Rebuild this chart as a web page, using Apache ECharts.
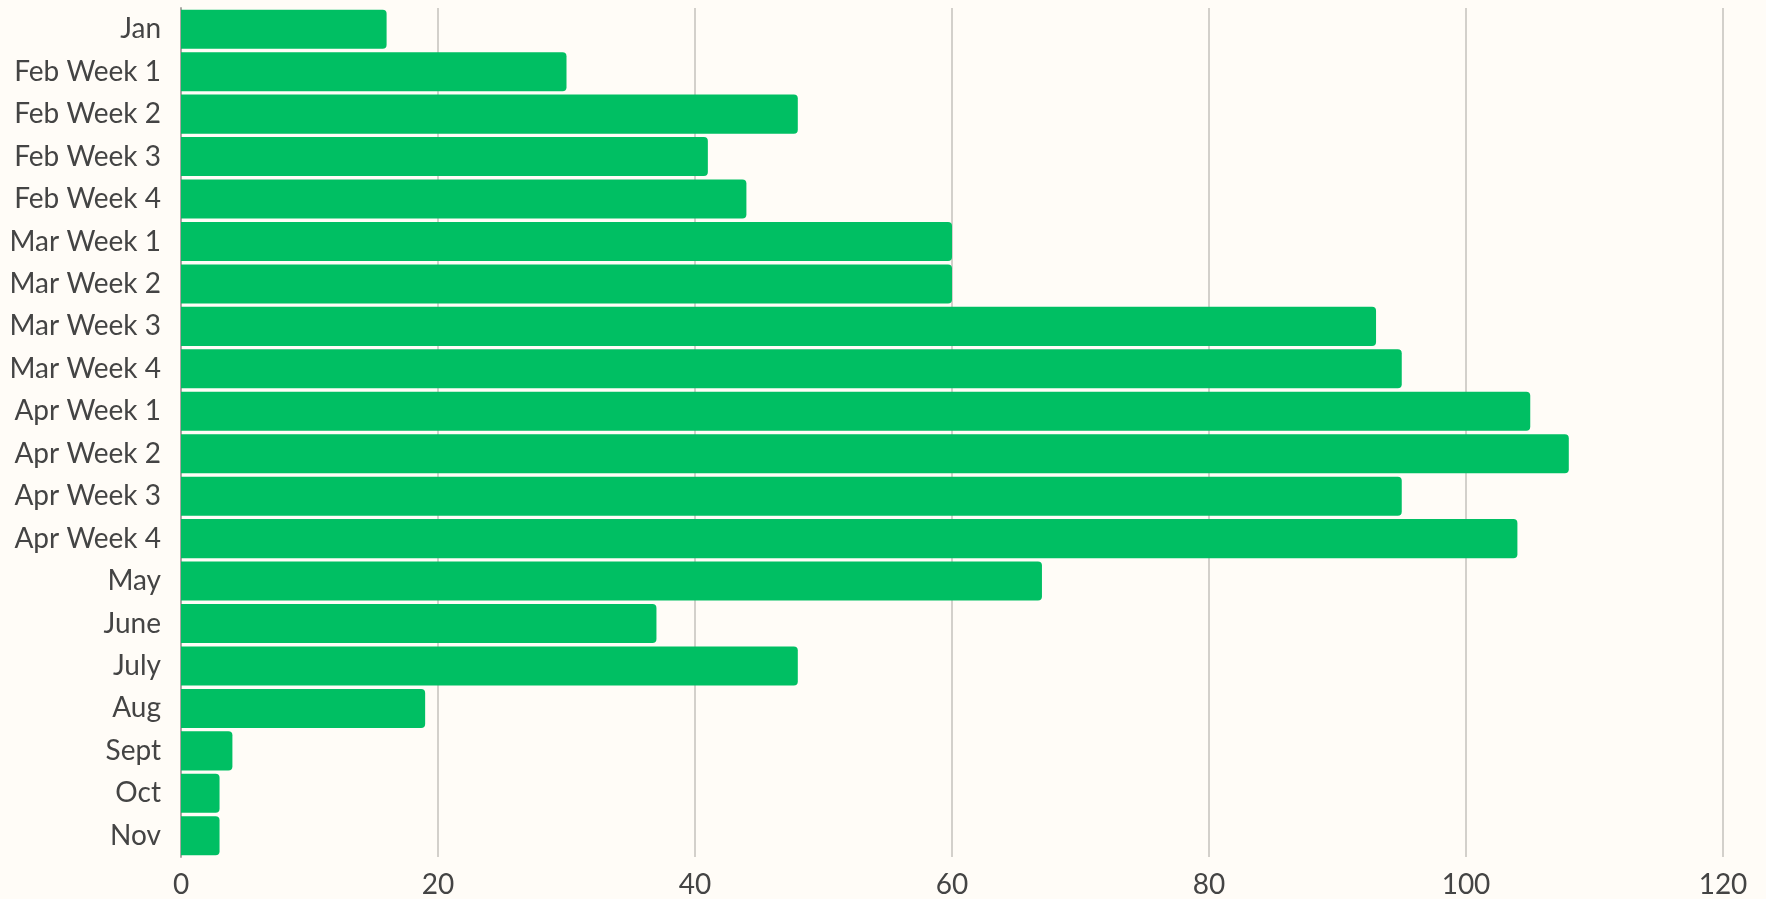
<!DOCTYPE html>
<html>
<head>
<meta charset="utf-8">
<script src="https://cdn.jsdelivr.net/npm/echarts@6/dist/echarts.min.js"></script>
<style>
html,body{margin:0;padding:0;background:#FFFCF7;}
#chart{width:1766px;height:899px;}
</style>
</head>
<body>
<div id="chart"></div>
<script>
const categories = ["Jan","Feb Week 1","Feb Week 2","Feb Week 3","Feb Week 4","Mar Week 1","Mar Week 2","Mar Week 3","Mar Week 4","Apr Week 1","Apr Week 2","Apr Week 3","Apr Week 4","May","June","July","Aug","Sept","Oct","Nov"];
const values = [16,30,48,41,44,60,60,93,95,105,108,95,104,67,37,48,19,4,3,3];
const xTicks = [0,20,40,60,80,100,120];

const chart = echarts.init(document.getElementById('chart'));
chart.setOption({
  backgroundColor: '#FFFCF7',
  animation: false,
  grid: {left: 181, right: 43, top: 8, bottom: 36, containLabel: false},
  xAxis: {
    type: 'value',
    min: xTicks[0],
    max: xTicks[xTicks.length - 1],
    interval: 20,
    axisLine: {show: false},
    axisTick: {show: false},
    splitLine: {show: true, lineStyle: {color: '#D3D0CB', width: 2}},
    axisLabel: {color: '#444444', fontFamily: 'Lato', fontSize: 28, margin: 14}
  },
  yAxis: {
    type: 'category',
    data: categories,
    inverse: true,
    axisLine: {show: true, lineStyle: {color: '#A8A6A2', width: 2}},
    axisTick: {show: false},
    axisLabel: {color: '#444444', fontFamily: 'Lato', fontSize: 28, margin: 20}
  },
  series: [{
    type: 'bar',
    data: values,
    barCategoryGap: '8%',
    itemStyle: {color: '#00BF63', borderRadius: [0, 4, 4, 0]}
  }]
});
</script>
</body>
</html>
